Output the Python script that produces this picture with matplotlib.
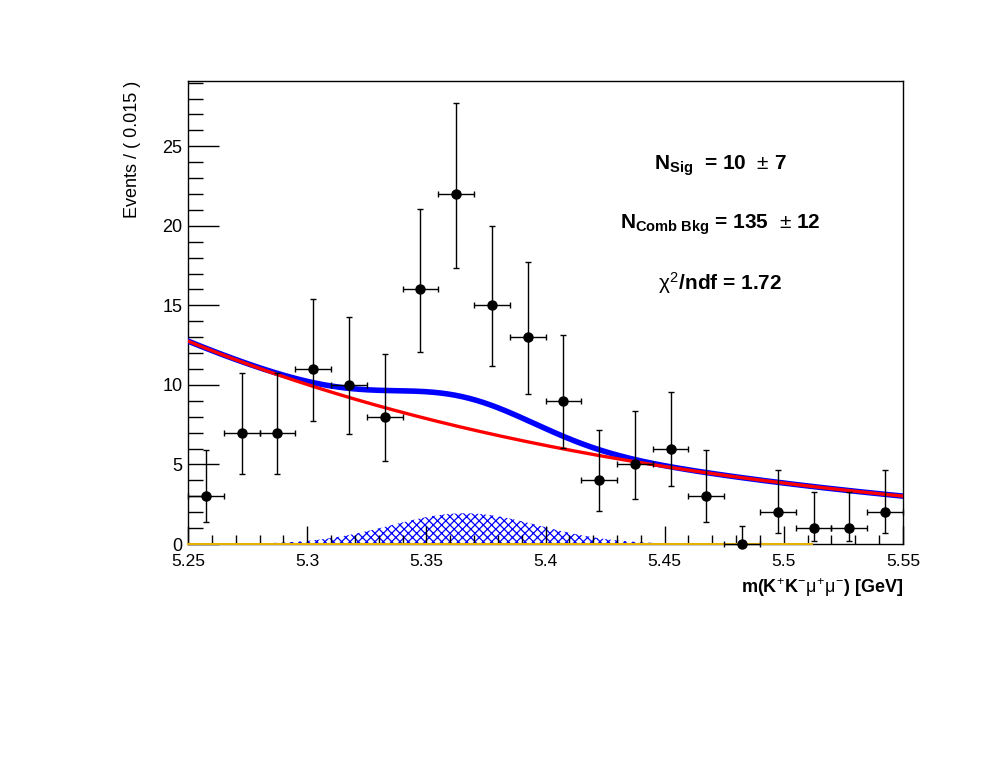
import numpy as np
import matplotlib
matplotlib.use("Agg")
import matplotlib.pyplot as plt

plt.rcParams['font.family'] = ['Liberation Sans', 'DejaVu Sans']
plt.rcParams['mathtext.fontset'] = 'custom'
plt.rcParams['mathtext.rm'] = 'Liberation Sans'
plt.rcParams['mathtext.it'] = 'Liberation Sans'
plt.rcParams['mathtext.bf'] = 'Liberation Sans:bold'
plt.rcParams['hatch.linewidth'] = 0.9

# binned data (bin width 0.015 GeV)
bin_lo = 5.25
bin_w = 0.015
counts = [3, 7, 7, 11, 10, 8, 16, 22, 15, 13, 9, 4, 5, 6, 3, 0, 2, 1, 1, 2]
err_lo = [1.63, 2.58, 2.58, 3.27, 3.11, 2.77, 3.95, 4.65, 3.83, 3.56,
          2.94, 1.91, 2.16, 2.38, 1.63, 0.0, 1.29, 0.83, 0.83, 1.29]
err_hi = [2.92, 3.77, 3.77, 4.42, 4.27, 3.95, 5.08, 5.73, 4.96, 4.70,
          4.11, 3.16, 3.38, 3.58, 2.92, 1.15, 2.64, 2.30, 2.30, 2.64]

# fit model parameters
n_sig = 10
n_bkg = 135
bkg_slope = -4.81        # exponential slope of combinatorial bkg
sig_mean = 5.366
sig_sigma = 0.031
x_min, x_max = 5.25, 5.55

centers = bin_lo + bin_w * (np.arange(len(counts)) + 0.5)

xx = np.linspace(x_min, x_max, 400)
bkg_pdf = np.exp(bkg_slope * (xx - x_min))
bkg_pdf /= np.trapezoid(bkg_pdf, xx)
bkg = n_bkg * bin_w * bkg_pdf
sig = n_sig * bin_w * np.exp(-0.5 * ((xx - sig_mean) / sig_sigma) ** 2) / (np.sqrt(2 * np.pi) * sig_sigma)
total = bkg + sig

fig = plt.figure(figsize=(9.96, 7.72), dpi=100)
ax = fig.add_axes([0.1888, 0.2953, 0.7178, 0.5997])

# signal component, hatched
ax.fill_between(xx, 0, sig, facecolor='none', edgecolor='blue', hatch='xxxx', linewidth=0)
# zero-yield component along the axis
ax.plot([x_min, 5.512], [0, 0], color='#e6b000', lw=1.5, zorder=3, clip_on=False)

ax.plot(xx, total, color='blue', lw=4, zorder=4)
ax.plot(xx, bkg, color='red', lw=2.4, zorder=5)

ax.errorbar(centers, counts, yerr=[err_lo, err_hi], xerr=bin_w / 2, fmt='o', color='black',
            ms=6.5, elinewidth=1, capsize=2, capthick=1, zorder=6, clip_on=False)

ax.set_xlim(x_min, x_max)
ax.set_ylim(0, 29.1)
ax.set_xticks([5.25, 5.3, 5.35, 5.4, 5.45, 5.5, 5.55])
ax.set_xticklabels(['5.25', '5.3', '5.35', '5.4', '5.45', '5.5', '5.55'])
ax.set_xticks(np.arange(5.26, 5.55, 0.01), minor=True)
ax.set_yticks([0, 5, 10, 15, 20, 25])
ax.set_yticks(np.arange(0, 29.1, 1), minor=True)
ax.tick_params(axis='both', which='both', direction='in', labelsize=13, top=False, right=False)
ax.tick_params(axis='x', which='major', length=13, width=1, pad=7, labelsize=12.5)
ax.tick_params(axis='x', which='minor', length=6.5, width=1)
ax.tick_params(axis='y', which='major', length=22, width=1, pad=4)
ax.tick_params(axis='y', which='minor', length=11, width=1)
for s in ax.spines.values():
    s.set_linewidth(1)

ax.set_ylabel('Events / ( 0.015 )', fontsize=13, loc='top')
ax.yaxis.set_label_coords(-0.066, 1.0)
ax.set_xlabel(r'm(K$^{+}$K$^{-}$$\mu^{+}\mu^{-}$) [GeV]', fontsize=13, fontweight='bold', loc='right')
ax.xaxis.set_label_coords(1.0, -0.07)

ax.text(0.744, 0.818, r'$\mathbf{N}_{\mathbf{Sig}}$  = 10  $\pm$ 7', transform=ax.transAxes,
        ha='center', va='center', fontsize=15, fontweight='bold')
ax.text(0.744, 0.689, r'$\mathbf{N}_{\mathbf{Comb\ Bkg}}$ = 135  $\pm$ 12', transform=ax.transAxes,
        ha='center', va='center', fontsize=15, fontweight='bold')
ax.text(0.744, 0.564, r'$\chi^{2}$/ndf = 1.72', transform=ax.transAxes,
        ha='center', va='center', fontsize=15, fontweight='bold')

plt.savefig('out.png', dpi=100)
